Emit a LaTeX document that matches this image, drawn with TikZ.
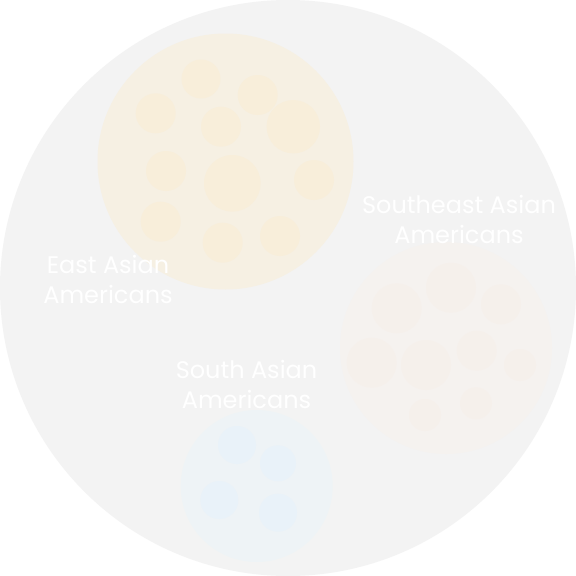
\documentclass[tikz,border=0pt]{standalone}
\usepackage{fontspec}
\setmainfont{Poppins}
\definecolor{bgc}{HTML}{F3F3F3}
\definecolor{eabig}{HTML}{F6F0E3}
\definecolor{easm}{HTML}{F8EEDA}
\definecolor{seabig}{HTML}{F5F2EF}
\definecolor{seasm}{HTML}{F5F0EB}
\definecolor{sabig}{HTML}{EEF3F6}
\definecolor{sasm}{HTML}{E9F2F9}
\tikzset{
  grp/.style={font=\fontsize{24}{30}\selectfont, text=white, align=center, inner sep=0pt},
}
\begin{document}
\begin{tikzpicture}[x=1pt,y=-1pt]
\useasboundingbox (0,0) rectangle (576,576);
\fill[white] (0,0) rectangle (576,576);
\fill[bgc] (288,288) circle (288);
% East Asian
\fill[eabig] (225.5,161.5) circle (128);
\foreach \x/\y/\r in {201/79/19.5, 257.7/95/20, 155.7/113.3/20, 221/126.7/20, 293.3/126.7/26.7, 166/171/20, 232.3/183.3/28.3, 314/180/20, 160.7/221.7/20, 222.7/242.7/20, 280/236/20}
  \fill[easm] (\x,\y) circle (\r);
% Southeast Asian
\fill[seabig] (446,348) circle (106);
\foreach \x/\y/\r in {396.7/308.3/25, 451/287.7/25, 501/304.3/20, 371.7/362.7/25, 426/365/25, 476.7/350.7/20, 520/365/16, 425/415/16, 476/403.3/16}
  \fill[seasm] (\x,\y) circle (\r);
% South Asian
\fill[sabig] (256.7,486) circle (76);
\foreach \x/\y/\r in {237/445/19, 278/463.3/18, 219.3/500/19, 278/512.7/19}
  \fill[sasm] (\x,\y) circle (\r);
% labels
\node[grp] (ea) at (108,279) {East Asian\\Americans};
\node[grp] (sea) at (459,219) {Southeast Asian\\Americans};
\node[grp] (sa) at (246.5,384) {South Asian\\Americans};
\end{tikzpicture}
\end{document}
